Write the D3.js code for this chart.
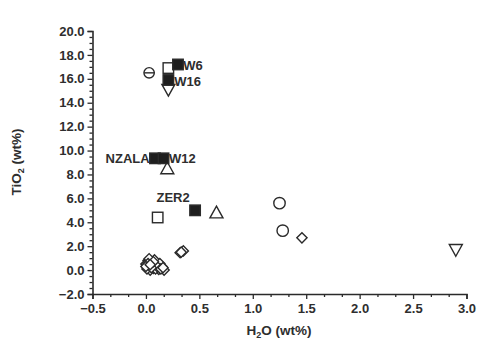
<!DOCTYPE html>
<html><head><meta charset="utf-8">
<script src="https://cdn.jsdelivr.net/npm/d3@7"></script>
<style>body{margin:0;background:#fff}svg{display:block}</style>
</head><body>
<script>
// ---- data ----
const xTicks = [-0.5,0.0,0.5,1.0,1.5,2.0,2.5,3.0];
const yTicks = [-2,0,2,4,6,8,10,12,14,16,18,20];
const filledSquares = [[0.30,17.2],[0.21,15.9],[0.085,9.35],[0.165,9.35],[0.46,5.0]];
const openSquares = [[0.21,16.9],[0.11,4.4]];
const circles = [[1.25,5.6],[1.28,3.3]];
const thetaCircles = [[0.03,16.5]];
const upTriangles = [[0.20,8.5],[0.66,4.8]];
const downTriangles = [[0.21,15.1],[2.90,1.7]];
const diamonds = [[1.46,2.7],[0.32,1.45],[0.35,1.6],[0.33,1.5],
  [0.02,0.8],[0.0,0.5],[0.03,0.25],[0.05,0.6],[0.07,0.15],[0.04,0.0],[0.1,0.4],[0.12,0.05],
  [0.15,0.3],[0.17,0.0],[0.08,0.85],[0.13,0.55],[0.01,0.1],[0.03,0.95],[0.06,0.4],[0.09,0.1],
  [0.11,0.25],[0.14,0.1],[0.16,0.2],[0.02,0.55],[0.05,0.2],[0.07,0.7],[0.0,0.3],[0.04,0.45]];
const labels = [["W6",0.35,17.1,"start"],["W16",0.265,15.8,"start"],["NZALA",0.035,9.3,"end"],["W12",0.215,9.3,"start"],["ZER2",0.41,6.1,"end"]];

const W=500,H=352;
const svg=d3.select("body").append("svg").attr("width",W).attr("height",H);
const x=d3.scaleLinear().domain([-0.5,3.0]).range([92.5,466.5]);
const y=d3.scaleLinear().domain([-2,20]).range([294,31]);
const col="#2a2a2a";
const fnt="Arial, 'Liberation Sans', sans-serif";

// axes
svg.append("g").attr("transform",`translate(0,${y(-2)})`)
  .call(d3.axisBottom(x).tickValues(xTicks).tickFormat(d3.format(".1f")).tickSize(5).tickPadding(5));
const xMinor=d3.range(-0.5,3.0001,0.5/3).filter((d,i)=>i%3!==0);
svg.append("g").attr("transform",`translate(0,${y(-2)})`)
  .call(d3.axisBottom(x).tickValues(xMinor).tickFormat("").tickSize(3))
  .call(g=>g.select(".domain").remove());
svg.append("g").attr("transform",`translate(${x(-0.5)},0)`)
  .call(d3.axisLeft(y).tickValues(yTicks).tickFormat(d3.format(".1f")).tickSize(5).tickPadding(3));
const yMinor=d3.range(-2,20.001,0.5).filter(d=>Math.abs(d%2)>0.01);
svg.append("g").attr("transform",`translate(${x(-0.5)},0)`)
  .call(d3.axisLeft(y).tickValues(yMinor).tickFormat("").tickSize(3))
  .call(g=>g.select(".domain").remove());
svg.selectAll(".domain").attr("stroke",col).attr("stroke-width",1.6);
svg.selectAll(".tick line").attr("stroke",col).attr("stroke-width",1.3);
svg.selectAll(".tick text").attr("fill","#2e2e2e").style("font-family",fnt).style("font-size","13px").style("font-weight","bold");

// axis titles
const xt=svg.append("text").attr("x",279).attr("y",335).attr("text-anchor","middle")
  .style("font-family",fnt).style("font-size","13.5px").style("font-weight","bold").attr("fill","#2e2e2e");
xt.append("tspan").text("H");
xt.append("tspan").text("2").attr("dy",3).style("font-size","9px");
xt.append("tspan").text("O (wt%)").attr("dy",-3);
const yt=svg.append("text").attr("transform","translate(21,162) rotate(-90)").attr("text-anchor","middle")
  .style("font-family",fnt).style("font-size","13.5px").style("font-weight","bold").attr("fill","#2e2e2e");
yt.append("tspan").text("TiO");
yt.append("tspan").text("2").attr("dy",3).style("font-size","9px");
yt.append("tspan").text(" (wt%)").attr("dy",-3);

const g=svg.append("g").attr("stroke",col).attr("stroke-width",1.4);
// diamonds
g.selectAll(".dm").data(diamonds).join("path")
  .attr("d",d3.symbol().type(d3.symbolSquare).size(52)())
  .attr("transform",d=>`translate(${x(d[0])},${y(d[1])}) rotate(45)`).attr("fill","#fff");
// circles
g.selectAll(".ci").data(circles).join("circle").attr("cx",d=>x(d[0])).attr("cy",d=>y(d[1])).attr("r",5.7).attr("fill","#fff");
g.selectAll(".th").data(thetaCircles).join("circle").attr("cx",d=>x(d[0])).attr("cy",d=>y(d[1])).attr("r",5.2).attr("fill","#fff");
g.selectAll(".thl").data(thetaCircles).join("line").attr("x1",d=>x(d[0])-5).attr("x2",d=>x(d[0])+5).attr("y1",d=>y(d[1])).attr("y2",d=>y(d[1]));
// triangles
const tri=(dir)=>{const s=6.5;return dir>0?`M0,${-s}L${s},${s*0.8}L${-s},${s*0.8}Z`:`M0,${s}L${s},${-s*0.8}L${-s},${-s*0.8}Z`;};
g.selectAll(".tu").data(upTriangles).join("path").attr("d",tri(1)).attr("transform",d=>`translate(${x(d[0])},${y(d[1])})`).attr("fill","#fff");
g.selectAll(".td").data(downTriangles).join("path").attr("d",tri(-1)).attr("transform",d=>`translate(${x(d[0])},${y(d[1])})`).attr("fill","#fff");
// squares
const sq=10.5;
g.selectAll(".os").data(openSquares).join("rect").attr("x",d=>x(d[0])-sq/2).attr("y",d=>y(d[1])-sq/2).attr("width",sq).attr("height",sq).attr("fill","#fff");
g.selectAll(".fs").data(filledSquares).join("rect").attr("x",d=>x(d[0])-sq/2).attr("y",d=>y(d[1])-sq/2).attr("width",sq).attr("height",sq).attr("fill","#1e1e1e");

// labels
svg.selectAll(".lb").data(labels).join("text").attr("x",d=>x(d[1])).attr("y",d=>y(d[2])+4.5)
  .attr("text-anchor",d=>d[3]).text(d=>d[0])
  .style("font-family",fnt).style("font-size","13px").style("font-weight","bold").attr("fill","#2e2e2e");
</script>
</body></html>
